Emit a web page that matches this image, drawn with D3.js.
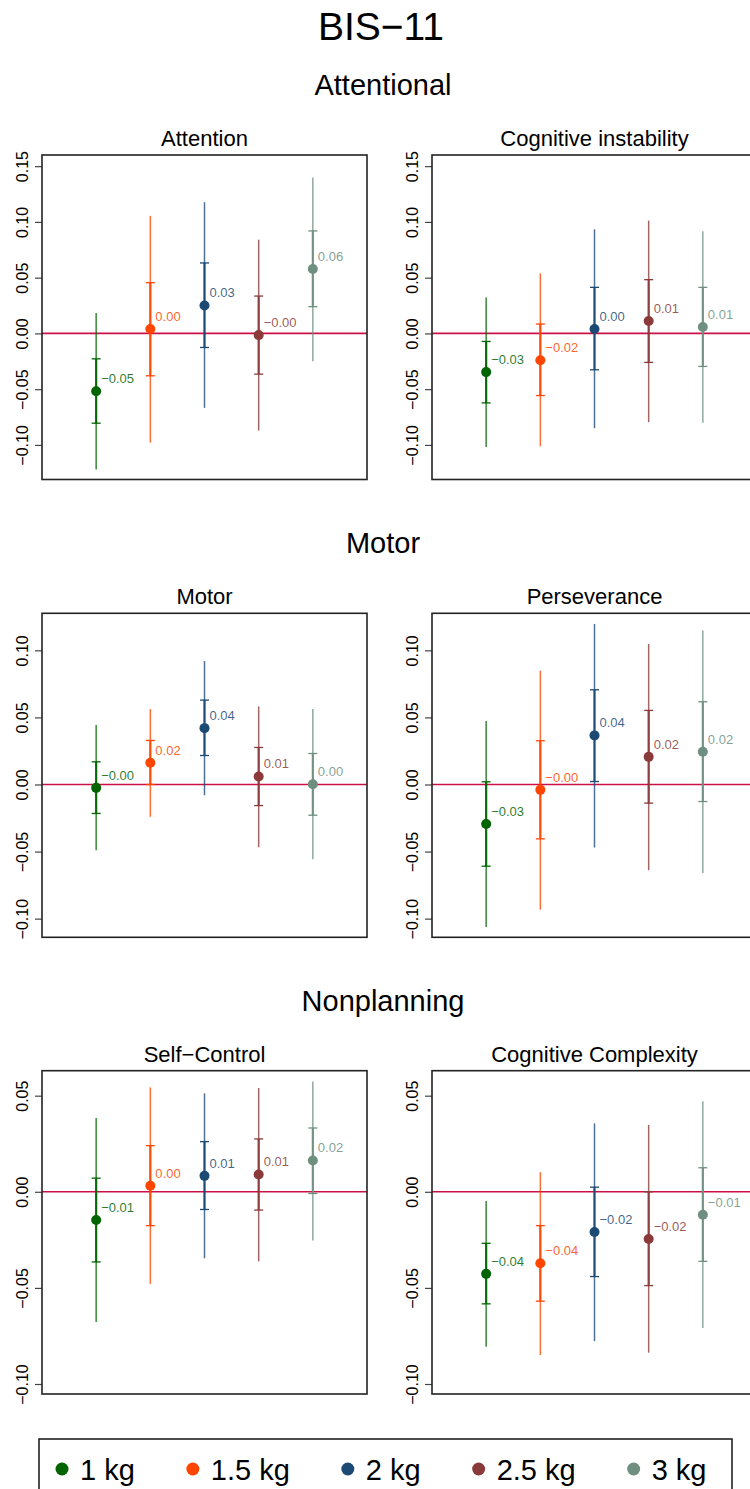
<!DOCTYPE html>
<html>
<head>
<meta charset="utf-8">
<script src="https://cdn.jsdelivr.net/npm/d3@7"></script>
<style>
  html, body { margin: 0; padding: 0; background: #fff; }
  svg { display: block; font-family: "Liberation Sans", Arial, Helvetica, sans-serif; }
</style>
</head>
<body>
<svg id="chart" width="750" height="1489"></svg>
<script>
// ---------- DATA ----------
const mainTitle = "BIS\u221211";
const sectionTitles = ["Attentional", "Motor", "Nonplanning"];
const panelTitles = ["Attention", "Cognitive instability", "Motor", "Perseverance", "Self\u2212Control", "Cognitive Complexity"];
const groups = ["1 kg", "1.5 kg", "2 kg", "2.5 kg", "3 kg"];
const groupColors = ["#006400", "#ff4500", "#1c4a75", "#8b3a3a", "#6f8f80"];

// one row per panel, one column per group
const estimates = [
  [-0.0518, 0.0039, 0.0251, -0.0015, 0.0578],
  [-0.0347, -0.0240, 0.0039, 0.0111, 0.0057],
  [-0.0025, 0.0162, 0.0420, 0.0060, 0.0002],
  [-0.0294, -0.0040, 0.0366, 0.0206, 0.0244],
  [-0.0147, 0.0031, 0.0083, 0.0090, 0.0163],
  [-0.0427, -0.0372, -0.0209, -0.0246, -0.0119]
];
const lower95 = [
  [-0.1220, -0.0979, -0.0668, -0.0871, -0.0249],
  [-0.1018, -0.1012, -0.0850, -0.0796, -0.0802],
  [-0.0490, -0.0241, -0.0080, -0.0468, -0.0557],
  [-0.1062, -0.0933, -0.0470, -0.0639, -0.0659],
  [-0.0678, -0.0479, -0.0346, -0.0362, -0.0253],
  [-0.0806, -0.0849, -0.0777, -0.0837, -0.0709]
];
const upper95 = [
  [0.0183, 0.1054, 0.1177, 0.0841, 0.1398],
  [0.0323, 0.0539, 0.0934, 0.1012, 0.0916],
  [0.0443, 0.0562, 0.0920, 0.0582, 0.0562],
  [0.0473, 0.0848, 0.1197, 0.1047, 0.1147],
  [0.0384, 0.0543, 0.0512, 0.0540, 0.0574],
  [-0.0048, 0.0102, 0.0356, 0.0348, 0.0471]
];
const lower68 = [
  [-0.0805, -0.0380, -0.0126, -0.0365, 0.0240],
  [-0.0623, -0.0557, -0.0326, -0.0260, -0.0296],
  [-0.0216, 0.0000, 0.0216, -0.0157, -0.0229],
  [-0.0609, -0.0405, 0.0022, -0.0139, -0.0127],
  [-0.0365, -0.0176, -0.0092, -0.0095, -0.0009],
  [-0.0583, -0.0569, -0.0441, -0.0488, -0.0362]
];
const upper68 = [
  [-0.0228, 0.0455, 0.0632, 0.0335, 0.0919],
  [-0.0072, 0.0084, 0.0413, 0.0482, 0.0413],
  [0.0169, 0.0328, 0.0629, 0.0276, 0.0231],
  [0.0020, 0.0326, 0.0706, 0.0552, 0.0617],
  [0.0071, 0.0240, 0.0261, 0.0275, 0.0332],
  [-0.0268, -0.0176, 0.0024, 0.0000, 0.0125]
];
// y-axis limits and tick labels per row of panels
const rowLimits = [[-0.131, 0.160], [-0.1139, 0.1276], [-0.1052, 0.063]];
const rowTicks = [
  [-0.10, -0.05, 0.00, 0.05, 0.10, 0.15],
  [-0.10, -0.05, 0.00, 0.05, 0.10],
  [-0.10, -0.05, 0.00, 0.05]
];

// ---------- LAYOUT ----------
const svg = d3.select("#chart");
const colLeft = [42, 432];
const panelW = 325;
const rowTop = [155, 613.3, 1070.7];
const panelH = [324.5, 324, 323.3];
const minus = "\u2212";
const fmt = v => (v < 0 ? minus : "") + Math.abs(v).toFixed(2);
const tickFmt = v => (v < 0 ? minus : "") + Math.abs(v).toFixed(2);

svg.append("text").attr("x", 381).attr("y", 40).attr("text-anchor", "middle")
  .attr("font-size", 39).attr("fill", "#000").text(mainTitle);

sectionTitles.forEach((t, r) => {
  svg.append("text").attr("x", 383).attr("y", rowTop[r] - 60).attr("text-anchor", "middle")
    .attr("font-size", 29).attr("fill", "#000").text(t);
});

panelTitles.forEach((title, p) => {
  const r = Math.floor(p / 2), c = p % 2;
  const x0 = colLeft[c], y0 = rowTop[r], h = panelH[r];
  const x = d3.scaleLinear().domain([0, 6]).range([x0, x0 + panelW]);
  const y = d3.scaleLinear().domain(rowLimits[r]).range([y0 + h, y0]);
  const g = svg.append("g");

  g.append("text").attr("x", x0 + panelW / 2).attr("y", y0 - 9).attr("text-anchor", "middle")
    .attr("font-size", 22).attr("fill", "#000").text(title);

  // y axis
  const ax = g.append("g").attr("transform", `translate(${x0},0)`)
    .call(d3.axisLeft(y).tickValues(rowTicks[r]).tickSize(7).tickPadding(0).tickFormat(tickFmt));
  ax.select(".domain").remove();
  ax.selectAll(".tick line").attr("stroke", "#444").attr("stroke-width", 1.2);
  ax.selectAll(".tick text")
    .attr("transform", "translate(-14.5,0) rotate(-90)")
    .attr("x", 0).attr("dy", 0).attr("y", 0)
    .attr("text-anchor", "middle").attr("font-size", 16).attr("fill", "#000")
    .attr("font-family", "Liberation Sans, Arial, sans-serif");

  // reference line at zero
  g.append("line").attr("x1", x0).attr("x2", x0 + panelW)
    .attr("y1", y(0)).attr("y2", y(0)).attr("stroke", "#cc1047").attr("stroke-width", 1.6);

  groups.forEach((grp, i) => {
    const cx = x(i + 1), col = groupColors[i];
    // outer (95%) interval
    g.append("line").attr("x1", cx).attr("x2", cx)
      .attr("y1", y(lower95[p][i])).attr("y2", y(upper95[p][i]))
      .attr("stroke", col).attr("stroke-opacity", 0.78).attr("stroke-width", 1.5);
    // inner interval
    g.append("line").attr("x1", cx).attr("x2", cx)
      .attr("y1", y(lower68[p][i])).attr("y2", y(upper68[p][i]))
      .attr("stroke", col).attr("stroke-opacity", 0.9).attr("stroke-width", 2.2);
    [lower68[p][i], upper68[p][i]].forEach(v => {
      g.append("line").attr("x1", cx - 4.5).attr("x2", cx + 4.5)
        .attr("y1", y(v)).attr("y2", y(v)).attr("stroke", col).attr("stroke-width", 1.3);
    });
    g.append("circle").attr("cx", cx).attr("cy", y(estimates[p][i])).attr("r", 5).attr("fill", col);
    g.append("text").attr("x", cx + 5).attr("y", y(estimates[p][i]) - 8)
      .attr("font-size", 13).attr("fill", col).attr("fill-opacity", 0.85)
      .text(fmt(estimates[p][i]));
  });

  // frame
  g.append("rect").attr("x", x0).attr("y", y0).attr("width", panelW).attr("height", h)
    .attr("fill", "none").attr("stroke", "#222").attr("stroke-width", 1.6);
});

// ---------- LEGEND ----------
const legY = 1469;
svg.append("rect").attr("x", 39).attr("y", 1439).attr("width", 693).attr("height", 70)
  .attr("fill", "none").attr("stroke", "#222").attr("stroke-width", 1.6);
let lx = 62;
groups.forEach((grp, i) => {
  svg.append("circle").attr("cx", lx).attr("cy", legY).attr("r", 6.5).attr("fill", groupColors[i]);
  const t = svg.append("text").attr("x", lx + 18).attr("y", legY + 11).attr("font-size", 29)
    .attr("fill", "#000").text(grp);
  lx = lx + 18 + t.node().getComputedTextLength() + 58;
});
</script>
</body>
</html>
